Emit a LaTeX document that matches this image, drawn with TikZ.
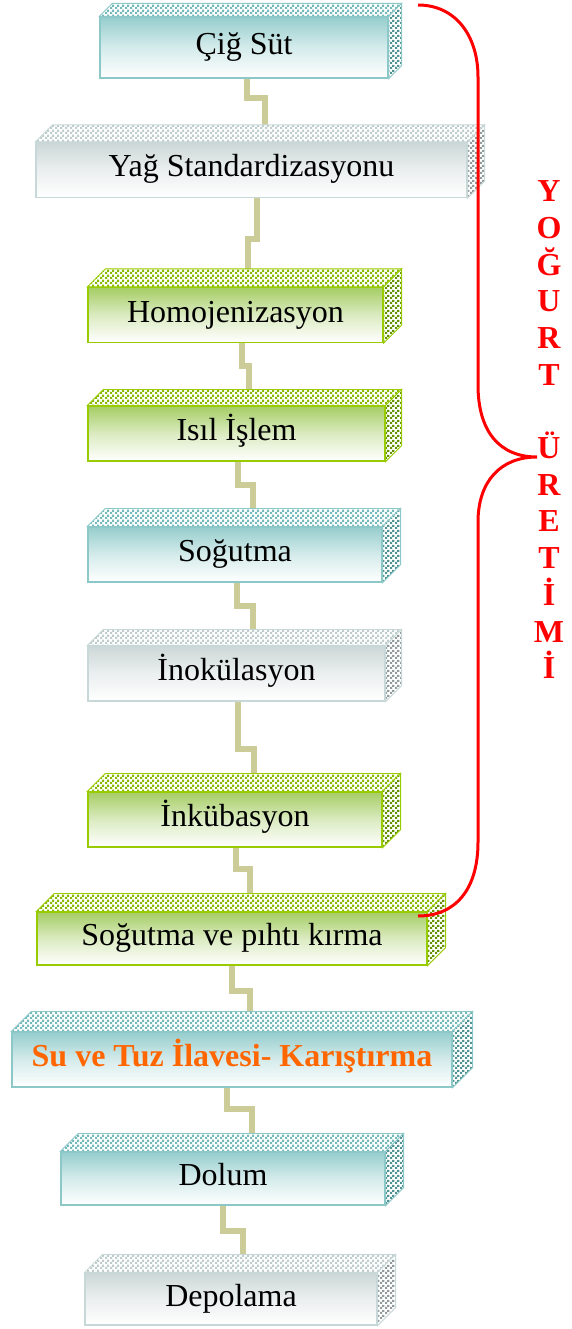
\documentclass[tikz,border=0pt]{standalone}
\usepackage{fontspec}
\setmainfont{Liberation Serif}
\usepackage{xcolor}
\usetikzlibrary{patterns,calc}

\definecolor{edgeteal}{RGB}{140,200,200}
\definecolor{topteal}{RGB}{150,205,205}
\definecolor{checkteal}{RGB}{115,185,185}
\definecolor{sideteal}{RGB}{80,145,145}
\definecolor{edgegrey}{RGB}{200,215,215}
\definecolor{topgrey}{RGB}{205,215,215}
\definecolor{checkgrey}{RGB}{190,204,204}
\definecolor{sidegrey}{RGB}{145,155,155}
\definecolor{edgegreen}{RGB}{153,204,0}
\definecolor{topgreen}{RGB}{165,205,100}
\definecolor{checkgreen}{RGB}{135,185,0}
\definecolor{sidegreen}{RGB}{100,145,0}
\definecolor{linkcol}{RGB}{204,204,153}
\definecolor{salt}{RGB}{255,102,0}

% small checker squares for the box faces
\pgfdeclarepatternformonly{finechecker}{\pgfpointorigin}{\pgfqpoint{5pt}{5pt}}{\pgfqpoint{5pt}{5pt}}{
  \pgfpathrectangle{\pgfpointorigin}{\pgfqpoint{2.5pt}{2.5pt}}
  \pgfpathrectangle{\pgfqpoint{2.5pt}{2.5pt}}{\pgfqpoint{2.5pt}{2.5pt}}
  \pgfusepath{fill}
}

\pgfdeclarelayer{back}
\pgfsetlayers{back,main}

\tikzset{
  block/.style={draw=edge#1, line width=1.2pt, top color=top#1, bottom color=white, middle color=top#1!40,
    inner sep=0pt, text height=21pt, text depth=7pt, minimum height=55pt, font=\fontsize{32}{36}\selectfont},
  face/.style={draw=edge#1, line width=0.8pt, preaction={fill=white}, pattern=finechecker, pattern color=check#1},
  side/.style={draw=edge#1, line width=0.8pt, preaction={fill=white}, pattern=finechecker, pattern color=side#1},
  link/.style={draw=linkcol, line width=6pt},
  brace/.style={draw=red, line width=3pt}
}

\begin{document}
\begin{tikzpicture}[x=1pt,y=-1pt]
\useasboundingbox (0,0) rectangle (572,1329);

% steps
\node[block=teal, minimum width=288pt, minimum height=61pt] (cig) at (244,47.5) {Çiğ Süt};
\node[block=grey, minimum width=431pt] (yag) at (251.5,170) {Yağ Standardizasyonu};
\node[block=green, minimum width=295pt] (homo) at (235.5,315) {Homojenizasyon};
\node[block=green, minimum width=297pt] (isil) at (236.5,433.5) {Isıl İşlem};
\node[block=teal, minimum width=294pt] (sog) at (235,554.5) {Soğutma};
\node[block=grey, minimum width=297pt] (inok) at (236.5,673.5) {İnokülasyon};
\node[block=green, minimum width=294pt] (inkub) at (235,819.5) {İnkübasyon};
\node[block=green, minimum width=390pt, minimum height=53pt] (pihti) at (232,938.5) {Soğutma ve pıhtı kırma};
\node[block=teal, minimum width=440pt, text=salt, font=\fontsize{32}{36}\selectfont\bfseries] (tuz) at (232,1059.5) {Su ve Tuz İlavesi- Karıştırma};
\node[block=teal, minimum width=324pt, minimum height=53pt] (dolum) at (223,1178.5) {Dolum};
\node[block=grey, minimum width=292pt, minimum height=52pt] (depo) at (231,1299) {Depolama};

% top and side faces
\foreach \n/\k/\d in {cig/teal/13, yag/grey/17, homo/green/18, isil/green/16, sog/teal/18, inok/grey/16,
    inkub/green/18, pihti/green/18, tuz/teal/20, dolum/teal/18, depo/grey/18}{
  \path[face=\k] (\n.north west) -- ++(\d,-\d) -- ($(\n.north east)+(\d,-\d)$) -- (\n.north east) -- cycle;
  \path[side=\k] (\n.north east) -- ++(\d,-\d) -- ($(\n.south east)+(\d,-\d)$) -- (\n.south east) -- cycle;
}

% links
\begin{pgfonlayer}{back}
\draw[link] ([xshift=3pt]cig.south) -- ++(0,19) -| ([xshift=13.5pt]yag.north);
\draw[link] ([xshift=5.5pt]yag.south) -- ++(0,41) -| ([xshift=12.5pt]homo.north);
\draw[link] ([xshift=6pt]homo.south) -- ++(0,23) -| ([xshift=12.5pt]isil.north);
\draw[link] ([xshift=1.5pt]isil.south) -- ++(0,23) -| ([xshift=17.5pt]sog.north);
\draw[link] ([xshift=2pt]sog.south) -- ++(0,23) -| ([xshift=16.5pt]inok.north);
\draw[link] ([xshift=1.5pt]inok.south) -- ++(0,47) -| ([xshift=19pt]inkub.north);
\draw[link] ([xshift=1pt]inkub.south) -- ++(0,21) -| ([xshift=18pt]pihti.north);
\draw[link] (pihti.south) -- ++(0,25) -| ([xshift=18pt]tuz.north);
\draw[link] ([xshift=-5pt]tuz.south) -- ++(0,21) -| ([xshift=29pt]dolum.north);
\draw[link] (dolum.south) -- ++(0,25) -| ([xshift=12pt]depo.north);
\end{pgfonlayer}

% brace and title
\coordinate (btop) at (418,5);
\coordinate (btip) at (537,457);
\coordinate (bend) at (418,916);
\draw[brace] (btop) .. controls (455,5) and (478,35) .. (478,77) -- (478,385)
  .. controls (478,432) and (500,457) .. (btip)
  .. controls (500,457) and (478,482) .. (478,522) -- (478,842)
  .. controls (478,890) and (455,916) .. (bend);
\node[text=red, font=\fontsize{32}{36.7}\selectfont\bfseries, align=center, inner sep=0pt, anchor=north] (title)
  at (549,180.5) {Y\\O\\Ğ\\U\\R\\T\\\mbox{}\\Ü\\R\\E\\T\\İ\\M\\İ};
\end{tikzpicture}
\end{document}
